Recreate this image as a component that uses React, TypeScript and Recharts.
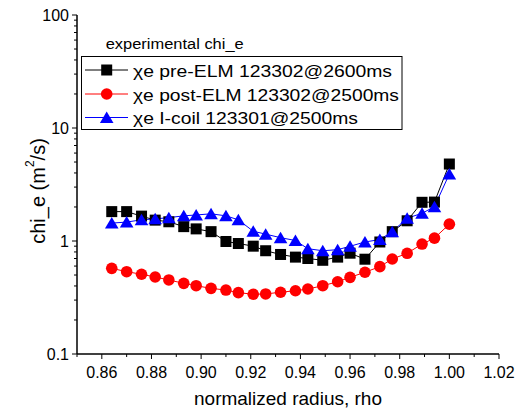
import React from "react";
import { LineChart, Line, XAxis, YAxis } from "recharts";

const rho = [
  0.864, 0.87, 0.876, 0.8815, 0.887, 0.893, 0.898, 0.904, 0.91, 0.915, 0.921,
  0.926, 0.932, 0.938, 0.943, 0.949, 0.955, 0.96, 0.966, 0.972, 0.977, 0.983,
  0.989, 0.994, 1.0,
];
const preElm = [
  1.82, 1.82, 1.66, 1.53, 1.48, 1.34, 1.28, 1.21, 0.99, 0.95, 0.9, 0.82, 0.76,
  0.72, 0.7, 0.675, 0.72, 0.78, 0.69, 0.98, 1.21, 1.51, 2.2, 2.21, 4.8,
];
const postElm = [
  0.573, 0.535, 0.508, 0.48, 0.452, 0.422, 0.402, 0.381, 0.368, 0.349, 0.338,
  0.34, 0.352, 0.363, 0.376, 0.402, 0.436, 0.477, 0.529, 0.593, 0.693, 0.778,
  0.94, 1.06, 1.41,
];
const iCoil = [
  1.44, 1.47, 1.54, 1.57, 1.61, 1.67, 1.7, 1.74, 1.67, 1.54, 1.22, 1.15, 1.07,
  1.01, 0.855, 0.82, 0.838, 0.898, 0.98, 1.03, 1.21, 1.59, 1.76, 2.01, 3.92,
];

const seriesNames = [
  "\u03c7e pre-ELM 123302@2600ms",
  "\u03c7e post-ELM 123302@2500ms",
  "\u03c7e I-coil 123301@2500ms",
];
const legendTitle = "experimental chi_e";

const xTicks = [
  0.85, 0.86, 0.87, 0.88, 0.89, 0.9, 0.91, 0.92, 0.93, 0.94, 0.95, 0.96, 0.97,
  0.98, 0.99, 1.0, 1.01, 1.02,
];
const xLabelTicks = ["0.86", "0.88", "0.90", "0.92", "0.94", "0.96", "0.98", "1.00", "1.02"];
const yTicks = [
  0.1, 0.2, 0.3, 0.4, 0.5, 0.6, 0.7, 0.8, 0.9, 1, 2, 3, 4, 5, 6, 7, 8, 9, 10,
  20, 30, 40, 50, 60, 70, 80, 90, 100,
];
const yMajor = [0.1, 1, 10, 100];

const data = rho.map((r, i) => ({
  rho: r,
  pre: preElm[i],
  post: postElm[i],
  coil: iCoil[i],
}));

const FONT = "'Liberation Sans', Arial, sans-serif";

const Square = (p: any) => {
  const { cx, cy } = p;
  if (cx == null || cy == null) return null;
  return <rect x={cx - 5.5} y={cy - 5.5} width={11} height={11} fill="#000" />;
};
const Dot = (p: any) => {
  const { cx, cy } = p;
  if (cx == null || cy == null) return null;
  return <circle cx={cx} cy={cy} r={5.8} fill="#ff0000" />;
};
const Tri = (p: any) => {
  const { cx, cy } = p;
  if (cx == null || cy == null) return null;
  return (
    <polygon
      points={`${cx},${cy - 6} ${cx - 6.8},${cy + 5.5} ${cx + 6.8},${cy + 5.5}`}
      fill="#0000ff"
    />
  );
};

const XTick = (p: any) => {
  const { x, y, payload } = p;
  const label = Number(payload.value).toFixed(2);
  const major = xLabelTicks.includes(label);
  return (
    <g>
      <line x1={x} x2={x} y1={y} y2={y + (major ? 5 : 3)} stroke="#000" />
      {major && (
        <text x={x} y={y + 18} textAnchor="middle" dominantBaseline="central" fontSize={16} fontFamily={FONT} fill="#000">
          {label}
        </text>
      )}
    </g>
  );
};

const YTick = (p: any) => {
  const { x, y, payload } = p;
  const v = Number(payload.value);
  const major = yMajor.some((m) => Math.abs(m - v) < 1e-9);
  return (
    <g>
      <line x1={x - (major ? 5 : 3)} x2={x} y1={y} y2={y} stroke="#000" />
      {major && (
        <text x={x - 8} y={y} textAnchor="end" dominantBaseline="central" fontSize={16} fontFamily={FONT} fill="#000">
          {String(v)}
        </text>
      )}
    </g>
  );
};

const XLabel = () => (
  <text x={288} y={398} textAnchor="middle" dominantBaseline="central" fontSize={19} fontFamily={FONT} fill="#000">
    normalized radius, rho
  </text>
);

const YLabel = () => (
  <text
    x={0}
    y={0}
    transform="translate(38,191) rotate(-90)"
    textAnchor="middle"
    dominantBaseline="central"
    fontSize={20}
    fontFamily={FONT}
    fill="#000"
  >
    chi_e (m<tspan fontSize={12} dy={-8}>2</tspan>
    <tspan dy={8}>/s)</tspan>
  </text>
);

const rowY = [70, 94, 117.5];
const rowLen = [259, 266, 225];
const rowColor = ["#000", "#ff0000", "#0000ff"];
const rowMarker = [Square, Dot, Tri];

const LegendBox = () => (
  <svg width={517} height={140} style={{ position: "absolute", left: 0, top: 0, pointerEvents: "none" }}>
    <text x={105.7} y={43.5} dominantBaseline="central" fontSize={14} fontFamily={FONT} textLength={138} lengthAdjust="spacingAndGlyphs" fill="#000">
      {legendTitle}
    </text>
    <rect x={81.5} y={56.5} width={320.5} height={73} fill="#fff" stroke="#000" strokeWidth={1} />
    {seriesNames.map((name, i) => {
      const M = rowMarker[i];
      return (
        <g key={name}>
          <line x1={85} x2={128} y1={rowY[i]} y2={rowY[i]} stroke={rowColor[i]} />
          <M cx={106.7} cy={rowY[i]} />
          <text x={133} y={rowY[i] + 1} dominantBaseline="central" fontSize={16} fontFamily={FONT} textLength={rowLen[i]} lengthAdjust="spacingAndGlyphs" fill="#000">
            {name}
          </text>
        </g>
      );
    })}
  </svg>
);

export default function App() {
  return (
    <div style={{ position: "absolute", left: 0, top: 0, width: 517, height: 419, background: "#fff" }}>
      <LineChart width={517} height={419} data={data} margin={{ top: 15, right: 18, bottom: 0, left: 0 }}>
        <XAxis
          dataKey="rho"
          type="number"
          domain={[0.85, 1.02]}
          ticks={xTicks}
          interval={0}
          height={65}
          tickSize={0}
          tickMargin={0}
          tickLine={false}
          tick={<XTick />}
          axisLine={{ stroke: "#000", strokeWidth: 1.5 }}
          allowDataOverflow
          label={{ content: <XLabel /> }}
        />
        <YAxis
          scale="log"
          type="number"
          domain={[0.1, 100]}
          ticks={yTicks}
          interval={0}
          width={77}
          tickSize={0}
          tickMargin={0}
          tickLine={false}
          tick={<YTick />}
          axisLine={{ stroke: "#000", strokeWidth: 1.5 }}
          allowDataOverflow
          label={{ content: <YLabel /> }}
        />
        <Line dataKey="pre" stroke="#000" strokeWidth={1} dot={<Square />} isAnimationActive={false} />
        <Line dataKey="post" stroke="#ff0000" strokeWidth={1} dot={<Dot />} isAnimationActive={false} />
        <Line dataKey="coil" stroke="#0000ff" strokeWidth={1} dot={<Tri />} isAnimationActive={false} />
      </LineChart>
      <LegendBox />
    </div>
  );
}
